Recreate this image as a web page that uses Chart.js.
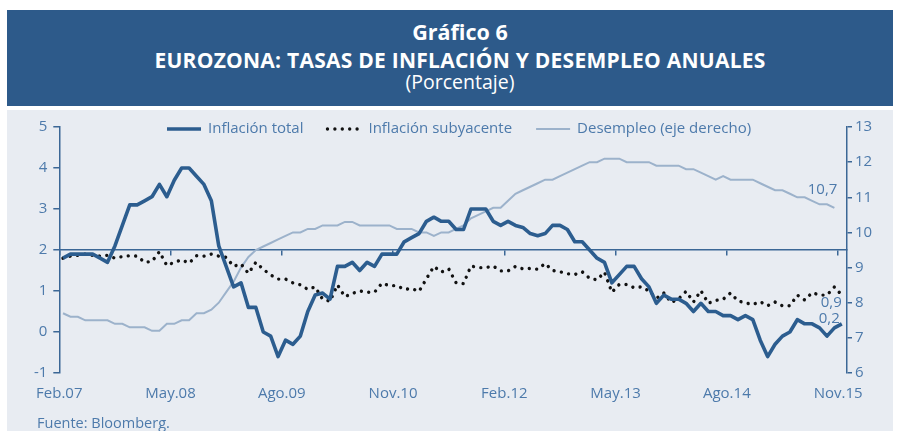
<!DOCTYPE html>
<html>
<head>
<meta charset="utf-8">
<script src="https://cdn.jsdelivr.net/npm/chart.js@4.4.0/dist/chart.umd.min.js"></script>
<style>
  body { margin: 0; width: 899px; height: 431px; overflow: hidden; background: #fff; font-family: 'Open Sans', sans-serif; }
  #head { position: absolute; left: 7px; top: 10px; width: 886px; height: 96px; background: #2d5a8a; color: #fff; }
  #head div { position: absolute; left: 10px; width: 100%; text-align: center; white-space: nowrap; }
  #t1 { top: 9px; font-weight: bold; font-size: 21.5px; line-height: 26px; }
  #t2 { top: 37px; font-weight: bold; font-size: 21px; line-height: 26px; letter-spacing: 0.25px; }
  #t3 { top: 60px; font-size: 19.5px; line-height: 24px; }
  #panel { position: absolute; left: 7px; top: 110px; width: 886px; height: 321px; background: #e8ecf2; }
  #src { position: absolute; left: 37px; top: 413px; font-size: 14.5px; color: #4d7aab; }
</style>
</head>
<body>
<div id="head">
  <div id="t1">Gráfico 6</div>
  <div id="t2">EUROZONA: TASAS DE INFLACIÓN Y DESEMPLEO ANUALES</div>
  <div id="t3">(Porcentaje)</div>
</div>
<div id="panel"><canvas id="myChart" width="886" height="321"></canvas></div>
<div id="src">Fuente: Bloomberg.</div>
<script>
// months Feb.07 .. Nov.15
const monthNames = ['Ene', 'Feb', 'Mar', 'Abr', 'May', 'Jun', 'Jul', 'Ago', 'Sep', 'Oct', 'Nov', 'Dic'];
const months = [];
for (let k = 1; k <= 106; k++) {
  months.push(monthNames[k % 12] + '.' + String(7 + Math.floor(k / 12)).padStart(2, '0'));
}

const tickEvery = 15;

const inflTotal = [
  1.8, 1.9, 1.9, 1.9, 1.9, 1.8, 1.7, 2.1, 2.6, 3.1, 3.1,
  3.2, 3.3, 3.6, 3.3, 3.7, 4.0, 4.0, 3.8, 3.6, 3.2, 2.1, 1.6,
  1.1, 1.2, 0.6, 0.6, 0.0, -0.1, -0.6, -0.2, -0.3, -0.1, 0.5, 0.9,
  0.95, 0.8, 1.6, 1.6, 1.7, 1.5, 1.7, 1.6, 1.9, 1.9, 1.9, 2.2,
  2.3, 2.4, 2.7, 2.8, 2.7, 2.7, 2.5, 2.5, 3.0, 3.0, 3.0, 2.7,
  2.6, 2.7, 2.6, 2.55, 2.4, 2.35, 2.4, 2.6, 2.6, 2.5, 2.2, 2.2,
  2.0, 1.8, 1.7, 1.2, 1.4, 1.6, 1.6, 1.3, 1.1, 0.7, 0.9, 0.8,
  0.8, 0.7, 0.5, 0.7, 0.5, 0.5, 0.4, 0.4, 0.3, 0.4, 0.3, -0.2,
  -0.6, -0.3, -0.1, 0.0, 0.3, 0.2, 0.2, 0.1, -0.1, 0.1, 0.2
];

const inflCore = [
  1.8, 1.85, 1.87, 1.9, 1.87, 1.85, 1.87, 1.8, 1.84, 1.86, 1.85,
  1.7, 1.72, 1.96, 1.62, 1.7, 1.76, 1.68, 1.86, 1.85, 1.9, 1.85, 1.82,
  1.6, 1.66, 1.43, 1.7, 1.53, 1.39, 1.29, 1.29, 1.2, 1.15, 1.04, 1.1,
  0.8, 0.75, 1.15, 0.86, 0.94, 1.0, 0.97, 0.97, 1.19, 1.13, 1.13, 1.04,
  1.06, 0.99, 1.3, 1.6, 1.46, 1.54, 1.2, 1.18, 1.61, 1.57, 1.57, 1.61,
  1.49, 1.49, 1.6, 1.54, 1.55, 1.53, 1.67, 1.5, 1.47, 1.42, 1.4, 1.47,
  1.31, 1.27, 1.46, 0.97, 1.16, 1.16, 1.08, 1.1, 1.0, 0.82, 0.95, 0.72,
  0.81, 0.99, 0.73, 1.01, 0.7, 0.77, 0.8, 0.95, 0.76, 0.71, 0.67, 0.74,
  0.64, 0.73, 0.64, 0.64, 0.9, 0.78, 0.96, 0.9, 0.9, 1.1, 0.9
];

// desempleo, ends Oct.15
const unemployment = [
  7.7, 7.6, 7.6, 7.5, 7.5, 7.5, 7.5, 7.4, 7.4, 7.3, 7.3,
  7.3, 7.2, 7.2, 7.4, 7.4, 7.5, 7.5, 7.7, 7.7, 7.8, 8.0, 8.3,
  8.6, 9.0, 9.3, 9.5, 9.6, 9.7, 9.8, 9.9, 10.0, 10.0, 10.1, 10.1,
  10.2, 10.2, 10.2, 10.3, 10.3, 10.2, 10.2, 10.2, 10.2, 10.2, 10.1, 10.1,
  10.1, 10.0, 10.0, 9.9, 10.0, 10.0, 10.1, 10.2, 10.4, 10.5, 10.6, 10.7,
  10.7, 10.9, 11.1, 11.2, 11.3, 11.4, 11.5, 11.5, 11.6, 11.7, 11.8, 11.9,
  12.0, 12.0, 12.1, 12.1, 12.1, 12.0, 12.0, 12.0, 12.0, 11.9, 11.9, 11.9,
  11.9, 11.8, 11.8, 11.7, 11.6, 11.5, 11.6, 11.5, 11.5, 11.5, 11.5, 11.4,
  11.3, 11.2, 11.2, 11.1, 11.0, 11.0, 10.9, 10.8, 10.8, 10.7
];

const blue = '#2c5d8f';
const axisBlue = '#3b6796';
const textBlue = '#4d7aab';
const font = { family: "'Open Sans', sans-serif", size: 15 };

const toPoints = (arr) => arr.map((v, i) => ({ x: i, y: v }));

// legend inside the plot + end labels
const legendNotes = {
  id: 'legendNotes',
  afterDatasetsDraw(chart) {
    const ctx = chart.ctx;
    ctx.save();
    ctx.font = '15px "Open Sans"';
    ctx.textBaseline = 'middle';
    let x = 160;
    const y = 19;
    chart.data.datasets.forEach((ds) => {
      ctx.strokeStyle = ds.borderColor;
      ctx.lineWidth = ds.borderWidth;
      ctx.lineCap = ds.borderCapStyle || 'butt';
      ctx.setLineDash(ds.borderDash || []);
      ctx.beginPath();
      ctx.moveTo(x, y);
      ctx.lineTo(x + 34, y);
      ctx.stroke();
      ctx.setLineDash([]);
      ctx.fillStyle = textBlue;
      ctx.textAlign = 'left';
      ctx.fillText(ds.label, x + 41, y);
      x += 41 + ctx.measureText(ds.label).width + 24;
    });

    chart.data.datasets.forEach((ds, i) => {
      const pts = chart.getDatasetMeta(i).data;
      const last = pts[pts.length - 1];
      const val = ds.data[ds.data.length - 1].y;
      ctx.textAlign = 'right';
      ctx.fillStyle = textBlue;
      ctx.fillText(val.toFixed(1).replace('.', ','), last.x + ds.note[0], last.y + ds.note[1]);
    });
    ctx.restore();
  }
};

const ctx = document.getElementById('myChart').getContext('2d');
const myChart = new Chart(ctx, {
  type: 'line',
  data: {
    datasets: [
      {
        label: 'Inflación total',
        data: toPoints(inflTotal),
        borderColor: blue,
        borderWidth: 3.6,
        borderJoinStyle: 'round',
        yAxisID: 'y',
        note: [-2, -5],
      },
      {
        label: 'Inflación subyacente',
        data: toPoints(inflCore),
        borderColor: '#111',
        borderWidth: 3.4,
        borderDash: [0.001, 7.4],
        borderCapStyle: 'round',
        yAxisID: 'y',
        note: [0, 8],
      },
      {
        label: 'Desempleo (eje derecho)',
        data: toPoints(unemployment),
        borderColor: '#9cb2cb',
        borderWidth: 2,
        yAxisID: 'y2',
        note: [3, -18],
      },
    ],
  },
  options: {
    responsive: false,
    animation: false,
    devicePixelRatio: 1,
    elements: { point: { radius: 0 }, line: { tension: 0 } },
    layout: { padding: { top: 17, bottom: 28, left: 0, right: 0 } },
    plugins: { legend: { display: false }, tooltip: { enabled: false } },
    scales: {
      x: {
        type: 'linear',
        min: -0.5,
        max: 105.7,
        position: { y: 2 },
        afterBuildTicks: (s) => { s.ticks = months.map((m, i) => i).filter(i => i % tickEvery === 0).map(i => ({ value: i - 0.5 })); },
        ticks: { display: false },
        grid: { drawOnChartArea: false, drawTicks: true, tickLength: 5, color: axisBlue, lineWidth: 1.5 },
        border: { display: true, color: axisBlue, width: 1.5 },
      },
      x2: {
        type: 'linear',
        min: -0.5,
        max: 105.7,
        position: 'bottom',
        afterBuildTicks: (s) => { s.ticks = months.map((m, i) => i).filter(i => i % tickEvery === 0).map(i => ({ value: i - 0.5 })); },
        afterFit: (s) => { s.height = 30; },
        ticks: {
          color: textBlue, font: font, padding: 12, maxRotation: 0, autoSkip: false,
          callback: (v) => months[Math.round(v + 0.5)],
        },
        grid: { display: false, drawTicks: false },
        border: { display: false },
      },
      y: {
        min: -1,
        max: 5,
        position: 'left',
        afterFit: (s) => { s.width = 52.3; },
        ticks: { stepSize: 1, color: textBlue, font: font, padding: 6 },
        grid: { drawOnChartArea: false, drawTicks: true, tickLength: 6, color: axisBlue, lineWidth: 1.5 },
        border: { display: true, color: axisBlue, width: 1.5 },
      },
      y2: {
        min: 6,
        max: 13,
        position: 'right',
        afterFit: (s) => { s.width = 46; },
        ticks: { stepSize: 1, color: textBlue, font: font, padding: 3 },
        grid: { drawOnChartArea: false, drawTicks: true, tickLength: 5, color: axisBlue, lineWidth: 1.5 },
        border: { display: true, color: axisBlue, width: 1.5 },
      },
    },
  },
  plugins: [legendNotes],
});
</script>
</body>
</html>
